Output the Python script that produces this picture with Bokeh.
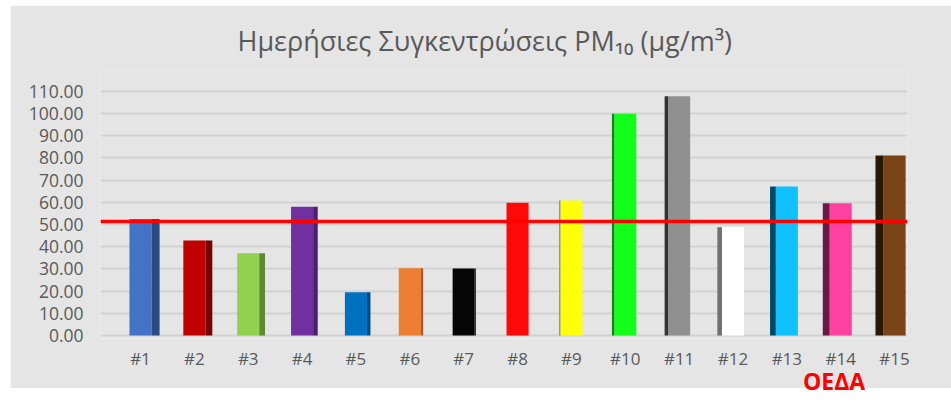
from bokeh.plotting import figure
from bokeh.layouts import column, row
from bokeh.models import (Range1d, FixedTicker, NumeralTickFormatter, Span, Div, Spacer,
                          ColumnDataSource)
from bokeh.embed import file_html
from bokeh.resources import INLINE

# ---- data ----
stations = ["#1", "#2", "#3", "#4", "#5", "#6", "#7", "#8",
            "#9", "#10", "#11", "#12", "#13", "#14", "#15"]
pm10 = [52.5, 42.8, 37.0, 58.0, 19.5, 30.3, 30.2, 59.8,
        60.8, 99.9, 107.7, 48.7, 67.1, 59.6, 81.0]
front_colors = ["#4472c4", "#c00000", "#92d050", "#7030a0", "#0070c0", "#ed7d31",
                "#050505", "#ff0808", "#ffff0a", "#11ff1b", "#909090", "#ffffff",
                "#10c0ff", "#ff42a2", "#7a4416"]
side_colors = ["#2b4a82", "#780000", "#5e8a30", "#4a1f6b", "#004a80", "#a85a22",
               "#1a1a1a", "#b00000", "#8a8a30", "#0a8a10", "#333333", "#707070",
               "#004a66", "#6a1a42", "#2a1806"]
y_ticks = [0, 10, 20, 30, 40, 50, 60, 70, 80, 90, 100, 110]
limit_level = 51.3          # red limit line, as drawn
note_text = "ΟΕΔΑ"
title_text = "Ημερήσιες Συγκεντρώσεις PM₁₀ (μg/m³)"

# ---- build sources ----
xs = list(range(1, len(stations) + 1))
front_w = 0.41
mid = 8
side_x, side_w = [], []
for i in xs:
    w = 1.15 * abs(i - mid) / 53.9
    sgn = 1 if i < mid else -1
    side_w.append(w)
    side_x.append(i + sgn * (front_w / 2 + w / 2))

front = ColumnDataSource(dict(x=xs, top=pm10, color=front_colors))
side = ColumnDataSource(dict(x=side_x, top=pm10, w=side_w, color=side_colors))

BG = "#e5e5e5"
TXT = "#595959"

p = figure(width=941, height=383, output_backend="svg", toolbar_location=None,
           x_range=Range1d(0.2573, 15.24), y_range=Range1d(-1.351, 119.32),
           min_border_left=90, min_border_right=44, min_border_top=65,
           min_border_bottom=50)
p.background_fill_color = BG
p.border_fill_color = BG
p.outline_line_color = None

p.title.text = title_text
p.title.align = "left"
p.title.offset = 137
p.title.text_font = "Open Sans"
p.title.text_font_size = "27px"
p.title.text_font_style = "normal"
p.title.text_color = TXT
p.title.standoff = 24

p.vbar(x="x", top="top", bottom=0, width=front_w, color="color", line_color=None, source=front)
p.vbar(x="x", top="top", bottom=0, width="w", color="color", line_color=None, source=side)

# y axis
p.yaxis.ticker = FixedTicker(ticks=y_ticks)
p.yaxis.formatter = NumeralTickFormatter(format="0.00")
p.yaxis.axis_line_color = None
p.yaxis.major_tick_line_color = None
p.yaxis.minor_tick_line_color = None
p.yaxis.major_label_standoff = 11
p.yaxis.major_label_text_font = "Open Sans"
p.yaxis.major_label_text_font_size = "17.5px"
p.yaxis.major_label_text_color = TXT

# x axis
p.xaxis.ticker = FixedTicker(ticks=xs)
p.xaxis.major_label_overrides = {i: s for i, s in zip(xs, stations)}
p.xaxis.axis_line_color = None
p.xaxis.major_tick_line_color = None
p.xaxis.minor_tick_line_color = None
p.xaxis.major_label_standoff = 2
p.xaxis.major_label_text_font = "Open Sans"
p.xaxis.major_label_text_font_size = "17px"
p.xaxis.major_label_text_color = TXT

p.xgrid.grid_line_color = None
p.ygrid.grid_line_color = "#d2d2d2"
p.ygrid.grid_line_width = 2

p.add_layout(Span(location=limit_level, dimension="width", line_color="#ff0000", line_width=3.5))

note = Div(text=note_text, width=90, height=30, margin=(-22, 0, 0, 803),
           styles={"transform": "translateY(0px)", "z-index": "5",
                   "font-family": "Open Sans", "font-weight": "bold",
                   "font-size": "23px", "line-height": "30px", "color": "#ff0000"})

layout = column(Spacer(height=5),
                row(Spacer(width=10), p),
                note)

open("out.html", "w").write(file_html(layout, INLINE))
